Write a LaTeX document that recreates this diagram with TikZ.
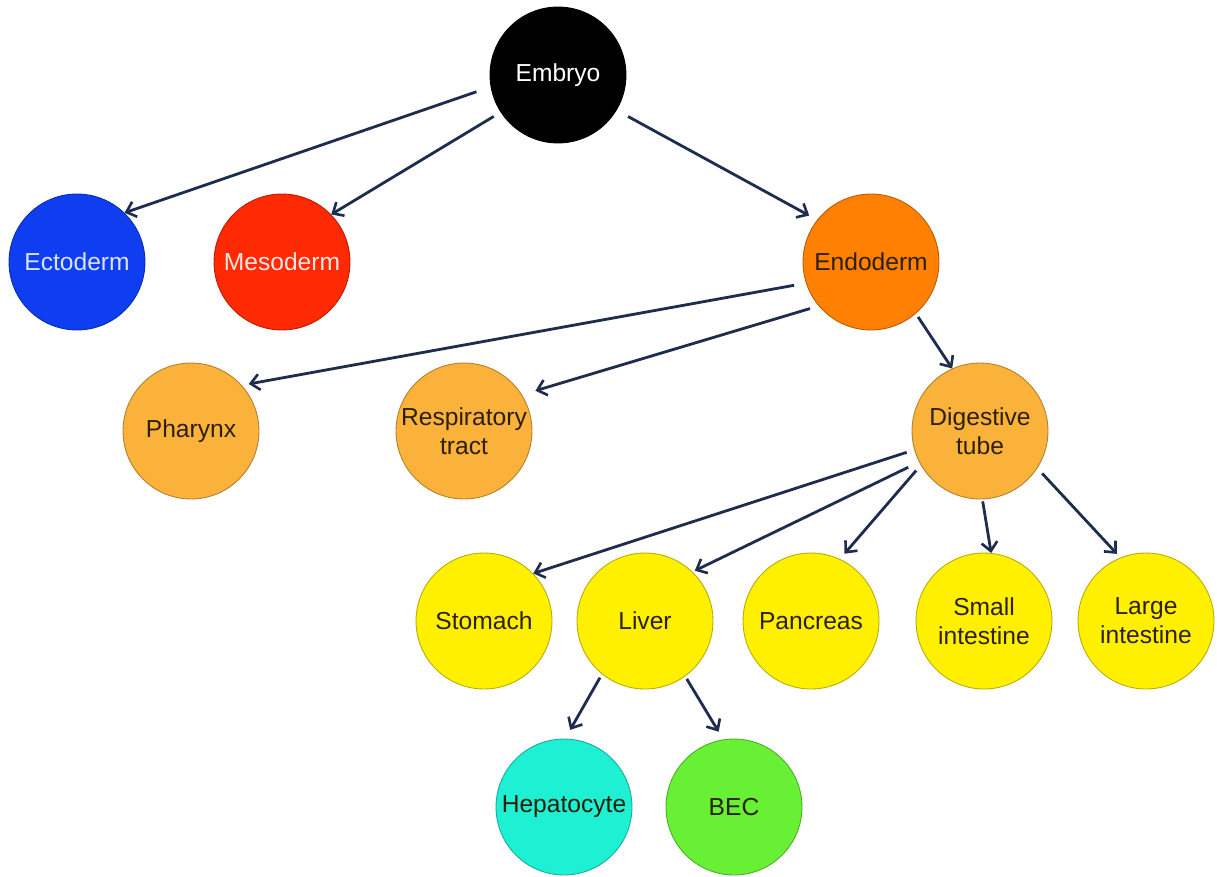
\documentclass[tikz,border=0pt]{standalone}
\usepackage{fontspec}
\setmainfont{Liberation Sans}
\usetikzlibrary{arrows.meta}
\definecolor{ectoblue}{RGB}{14,62,240}
\definecolor{mesored}{RGB}{255,42,4}
\definecolor{endoorange}{RGB}{255,128,2}
\definecolor{tubeorange}{RGB}{250,178,58}
\definecolor{organyellow}{RGB}{255,240,0}
\definecolor{hepcyan}{RGB}{30,240,212}
\definecolor{becgreen}{RGB}{104,240,52}
\definecolor{arrowblue}{RGB}{30,45,78}
\definecolor{darktext}{RGB}{45,32,8}

\begin{document}
\begin{tikzpicture}[x = 0.02cm, y = -0.02cm]
  \tikzstyle{every node} = [circle,
			    minimum size = 2.72cm,
			    inner sep = 0pt,
			    align = center,
			    font = \fontsize{14}{16.5}\selectfont]
\tikzset{CellStyle/.style 2 args = {fill = #1, draw = #1!72!black, line width = 0.5pt, text = #2}}
\tikzset{EdgeStyle/.style = {-{Straight Barb[length = 5pt, width = 9pt, line width = 1.5pt]}, line width = 1.6pt, color = arrowblue}}
\useasboundingbox (0,0) rectangle (1217,876);

\node[CellStyle = {black}{white}] (Embryo) at (558,75) {Embryo};

\node[CellStyle = {ectoblue}{white!85!ectoblue}] (Ecto) at (77,262) {Ectoderm};
\node[CellStyle = {mesored}{white!88!mesored}] (Meso) at (282,262) {Mesoderm};
\node[CellStyle = {endoorange}{darktext}] (Endo) at (871,262) {Endoderm};

\node[CellStyle = {tubeorange}{darktext}] (Phar) at (191,431) {Pharynx};
\node[CellStyle = {tubeorange}{darktext}] (Resp) at (464,431) {Respiratory\\tract};
\node[CellStyle = {tubeorange}{darktext}] (Dig) at (980,431) {Digestive\\tube};

\node[CellStyle = {organyellow}{darktext}] (Stom) at (484,621) {Stomach};
\node[CellStyle = {organyellow}{darktext}] (Liver) at (645,621) {Liver};
\node[CellStyle = {organyellow}{darktext}] (Panc) at (811,621) {Pancreas};
\node[CellStyle = {organyellow}{darktext}] (SmInt) at (984,621) {Small\\intestine};
\node[CellStyle = {organyellow}{darktext}] (LgInt) at (1146,621) {Large\\intestine};

\node[CellStyle = {hepcyan}{darktext}] (Hep) at (564,807) {Hepatocyte};
\node[CellStyle = {becgreen}{darktext}] (BEC) at (734,807) {BEC};

% germ layers
\draw[EdgeStyle, shorten <= 0.3cm] (Embryo.190) -- (Ecto.46);
\draw[EdgeStyle, shorten <= 0.16cm] (Embryo.213) -- (Meso.44);
\draw[EdgeStyle, shorten <= 0.26cm, shorten >= 0.18cm] (Embryo.329) -- (Endo.142);
% endoderm
\draw[EdgeStyle, shorten <= 0.24cm, shorten >= 0.14cm] (Endo.198) -- (Phar.42);
\draw[EdgeStyle, shorten <= 0.18cm, shorten >= 0.28cm] (Endo.220) -- (Resp.32);
\draw[EdgeStyle, shorten <= 0.08cm] (Endo.311) -- (Dig.114);
% digestive tube
\draw[EdgeStyle, shorten <= 0.16cm] (Dig.196) -- (Stom.44);
\draw[EdgeStyle, shorten <= 0.24cm, shorten >= 0.05cm] (Dig.207) -- (Liver.46);
\draw[EdgeStyle, shorten <= 0.14cm, shorten >= 0.14cm] (Dig.210) -- (Panc.65);
\draw[EdgeStyle, shorten <= 0.04cm] (Dig.272) -- (SmInt.84);
\draw[EdgeStyle, shorten <= 0.14cm, shorten >= 0.1cm] (Dig.327) -- (LgInt.112);
% liver
\draw[EdgeStyle, shorten <= 0.08cm, shorten >= 0.2cm] (Liver.231) -- (Hep.89);
\draw[EdgeStyle, shorten <= 0.06cm, shorten >= 0.18cm] (Liver.306) -- (BEC.99);

\end{tikzpicture}
\end{document}
